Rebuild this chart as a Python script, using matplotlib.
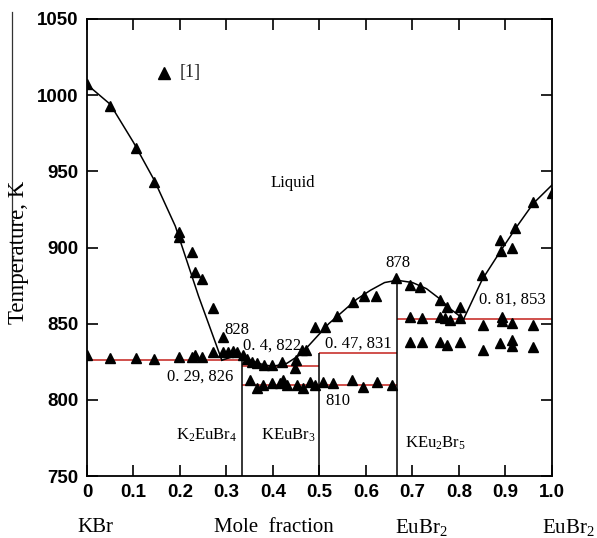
import matplotlib
matplotlib.use("Agg")
import matplotlib.pyplot as plt
from matplotlib.lines import Line2D

plt.rcParams['mathtext.fontset'] = 'custom'
plt.rcParams['mathtext.rm'] = 'Liberation Serif'
plt.rcParams['mathtext.it'] = 'Liberation Serif:italic'

SERIF = 'Liberation Serif'
SANS = 'Liberation Sans'

# measured points, ref [1]: mole fraction EuBr2, temperature K
x_pts = [0, 0.049, 0.105, 0.144, 0.198, 0.198, 0.226, 0.233, 0.248, 0.272, 0.293,
         0, 0.049, 0.105, 0.144, 0.198, 0.225, 0.232, 0.248, 0.272, 0.293, 0.304, 0.315, 0.322, 0.335,
         0.345, 0.355, 0.365, 0.38, 0.397, 0.42, 0.447, 0.45, 0.462, 0.472,
         0.35, 0.365, 0.379, 0.397, 0.415, 0.422, 0.43, 0.451, 0.465, 0.48,
         0.49, 0.508, 0.53, 0.569, 0.594, 0.623, 0.655,
         0.49, 0.512, 0.537, 0.573, 0.596, 0.622, 0.665,
         0.695, 0.717, 0.759, 0.774, 0.802,
         0.695, 0.72, 0.759, 0.77, 0.781, 0.802, 0.851, 0.892, 0.892, 0.913, 0.96,
         0.695, 0.72, 0.759, 0.774, 0.802, 0.852, 0.888, 0.913, 0.913, 0.96,
         0.849, 0.888, 0.89, 0.915, 0.92, 0.96, 1.0]
T_pts = [1007, 993, 965, 943, 910, 907, 897, 884, 879, 860, 841.5,
         829.5, 827.3, 827.3, 826.7, 828, 828, 829.5, 828, 831.7, 831.7, 831.7, 832, 831.7, 829.5,
         827, 825, 824, 823, 823, 825, 821, 826, 833, 833,
         813, 807.6, 809.8, 811, 811, 813, 809.8, 809.8, 807.6, 812,
         809.8, 812, 811, 813, 808.7, 812, 809.8,
         847.5, 848, 855, 864.5, 868, 868, 880,
         875.5, 874.4, 865.6, 861, 861,
         854.7, 853.6, 854.7, 853.6, 852.5, 853.6, 849, 854.7, 851.8, 850.3, 849,
         838, 838, 838, 836, 838, 832.8, 837, 839, 835.5, 835,
         882, 905, 898, 900, 912.7, 930, 936]

# liquidus curves
liq1_x = [0, 0.05, 0.1, 0.145, 0.19, 0.24, 0.29]
liq1_T = [1007, 994, 969, 944, 914, 868, 826]
liq2_x = [0.29, 0.31, 0.335, 0.36, 0.38, 0.40, 0.43, 0.46, 0.49, 0.52, 0.55, 0.58, 0.61, 0.64,
          0.667, 0.70, 0.73, 0.76, 0.78, 0.81]
liq2_T = [826, 828, 828, 825, 823, 822, 824, 830, 840, 850, 858, 866, 872, 877,
          878.5, 877, 873, 866, 860, 853]
liq3_x = [0.81, 0.85, 0.89, 0.925, 0.96, 1.0]
liq3_T = [853, 879, 898, 914, 929, 941]

# invariant lines (red) and compound verticals
iso_x0 = [0, 0.333, 0.333, 0.5, 0.667]
iso_x1 = [0.333, 0.5, 0.667, 0.667, 1.0]
iso_T = [826, 822, 810, 831, 853]
comp_x = [0.333, 0.5, 0.667]
comp_top = [826, 831, 878.5]

fig = plt.figure(figsize=(5.97, 5.38), dpi=100)
ax = fig.add_axes([0.1457, 0.1152, 0.7789, 0.8495])

ax.plot(liq1_x, liq1_T, color='black', lw=1.1, zorder=3)
ax.plot(liq2_x, liq2_T, color='black', lw=1.1, zorder=3)
ax.plot(liq3_x, liq3_T, color='black', lw=1.1, zorder=3)
ax.hlines(iso_T, iso_x0, iso_x1, colors='#c8322d', lw=1.2, zorder=2)
ax.vlines(comp_x, 750, comp_top, colors='black', lw=1.1, zorder=2)
ax.plot(x_pts, T_pts, ls='none', marker='^', ms=7, color='black', zorder=4)

# legend
ax.plot([0.166], [1014.6], ls='none', marker='^', ms=8, color='black')
ax.text(0.2, 1014.6, '[1]', family=SERIF, fontsize=13, va='center', ha='left', color='#222222')

lab = dict(family=SERIF, fontsize=12, ha='center', va='center')
ax.text(0.443, 942.5, 'Liquid', **lab)
ax.text(0.322, 846, '828', **lab)
ax.text(0.398, 835.4, '0. 4, 822', **lab)
ax.text(0.243, 815, '0. 29, 826', **lab)
ax.text(0.583, 837.2, '0. 47, 831', **lab)
ax.text(0.539, 799.5, '810', **lab)
ax.text(0.668, 889.7, '878', **lab)
ax.text(0.915, 866, '0. 81, 853', **lab)
ax.text(0.257, 777, r'K$_2$EuBr$_4$', **lab)
ax.text(0.434, 777, r'KEuBr$_3$', **lab)
ax.text(0.75, 771.5, r'KEu$_2$Br$_5$', **lab)

ax.set_xlim(0, 1.0)
ax.set_ylim(750, 1050)
ax.set_xticks([0, 0.1, 0.2, 0.3, 0.4, 0.5, 0.6, 0.7, 0.8, 0.9, 1.0])
ax.set_xticklabels(['0', '0.1', '0.2', '0.3', '0.4', '0.5', '0.6', '0.7', '0.8', '0.9', '1.0'])
ax.set_yticks([750, 800, 850, 900, 950, 1000, 1050])
ax.tick_params(direction='in', length=8, width=1.2, top=True, right=True, pad=6)
for t in ax.get_xticklabels() + ax.get_yticklabels():
    t.set_family(SANS)
    t.set_fontweight('bold')
    t.set_fontsize(13.5)
for s in ax.spines.values():
    s.set_linewidth(1.3)

# axis titles placed in figure pixels
fig.text(19 / 597, 1 - 252 / 538, 'Temperature, K', family=SERIF, fontsize=16.5,
         rotation=90, ha='center', va='center')
bot = 1 - 528 / 538
fig.text(95 / 597, bot, 'KBr', family=SERIF, fontsize=15, ha='center', va='center')
fig.text(274 / 597, bot, 'Mole  fraction', family=SERIF, fontsize=15, ha='center', va='center')
fig.text(421 / 597, bot, r'EuBr$_2$', family=SERIF, fontsize=15, ha='center', va='center')
fig.text(568 / 597, bot, r'EuBr$_2$', family=SERIF, fontsize=15, ha='center', va='center')

# thin rule along the left edge, running over the label
fig.add_artist(Line2D([12 / 597, 12 / 597], [1 - 12 / 538, 1 - 290 / 538], color='#333333', lw=0.9))

fig.savefig('out.png', dpi=100)
